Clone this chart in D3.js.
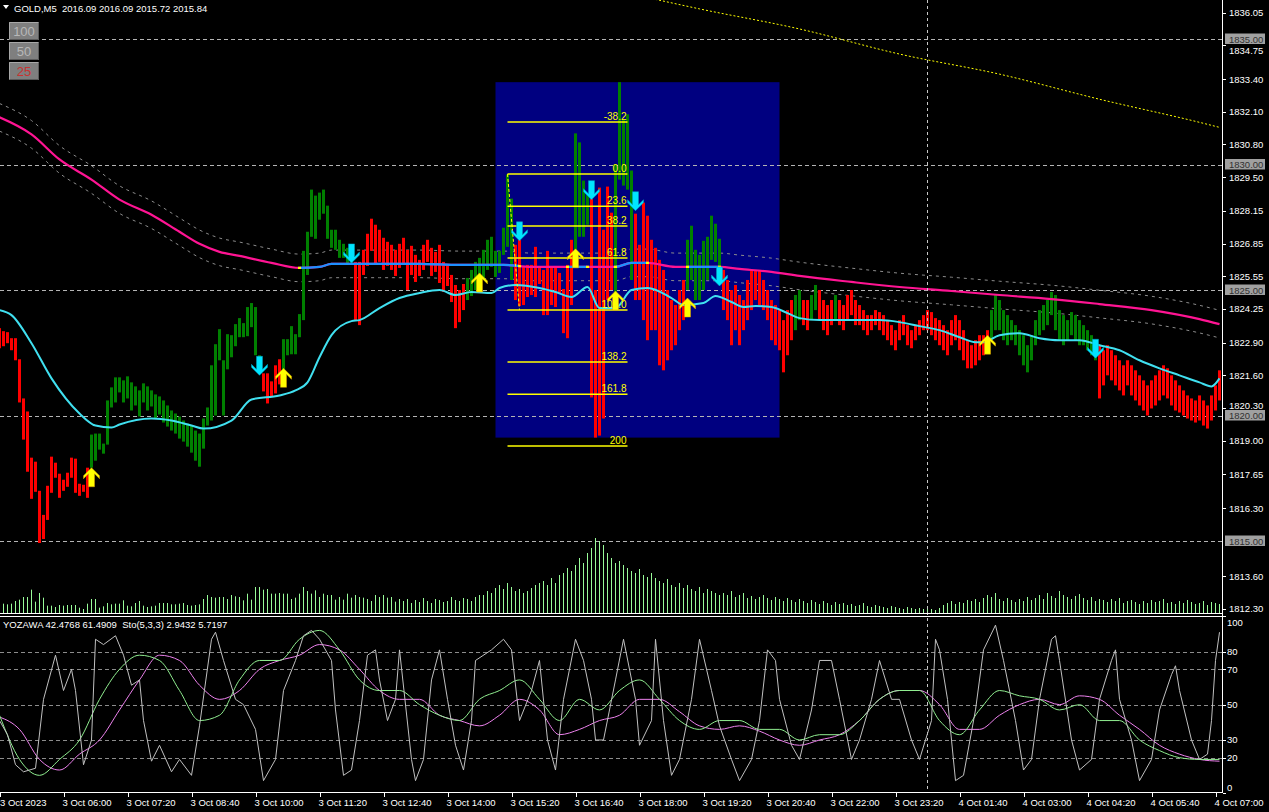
<!DOCTYPE html>
<html><head><meta charset="utf-8">
<script src="https://cdn.jsdelivr.net/npm/d3@7/dist/d3.min.js"></script>
<style>html,body{margin:0;padding:0;background:#000;overflow:hidden}svg{display:block}text{font-family:"Liberation Sans",Arial,sans-serif}</style>
</head><body><svg id="c" width="1269" height="812"></svg>
<script>
// ---------------- DATA ----------------
const barHigh = [1823.48,1823.36,1823.32,1823.08,1823.08,1822.24,1820.68,1820.16,1818.32,1818.16,
1817.00,1816.04,1817.20,1818.36,1818.12,1817.68,1817.44,1817.72,1818.32,1818.28,
1817.28,1817.24,1817.92,1819.24,1819.28,1819.28,1818.88,1820.60,1821.12,1821.52,
1821.52,1821.40,1821.56,1821.32,1821.16,1821.00,1821.28,1821.16,1821.00,1820.84,
1820.76,1820.60,1820.40,1820.20,1820.08,1819.96,1819.80,1819.68,1819.60,1819.40,
1819.28,1819.88,1820.32,1822.00,1822.84,1823.44,1822.20,1823.24,1823.20,1823.64,
1823.88,1823.68,1824.32,1824.48,1824.32,1822.40,1821.68,1821.68,1821.36,1822.00,
1822.24,1823.04,1823.04,1823.56,1823.24,1824.04,1826.56,1827.32,1829.00,1828.76,
1828.88,1829.00,1828.36,1827.40,1827.40,1827.00,1826.84,1826.68,1826.44,1826.12,
1826.12,1826.60,1827.24,1827.84,1827.60,1827.40,1827.08,1826.92,1826.80,1826.60,
1826.84,1827.08,1826.60,1826.76,1826.40,1826.20,1826.80,1827.00,1826.68,1826.52,
1826.80,1826.12,1826.00,1825.60,1825.20,1825.00,1825.24,1825.48,1825.80,1826.12,
1826.28,1826.60,1827.00,1827.12,1826.56,1826.56,1827.48,1829.60,1828.64,1826.80,
1827.00,1825.92,1826.00,1826.00,1826.72,1825.88,1825.80,1826.56,1825.92,1825.92,
1825.68,1825.04,1826.00,1827.00,1831.24,1830.88,1829.36,1828.80,1828.64,1825.00,
1829.08,1827.40,1829.12,1828.08,1830.00,1833.28,1831.80,1832.00,1829.76,1828.04,
1826.80,1828.48,1827.96,1827.00,1826.68,1826.20,1825.80,1825.00,1824.60,1824.40,
1825.00,1825.40,1827.00,1827.56,1826.60,1826.40,1826.96,1827.12,1827.96,1827.64,
1827.04,1825.80,1825.40,1825.00,1825.20,1824.80,1824.60,1825.40,1825.80,1825.80,
1825.80,1825.40,1825.00,1824.60,1824.40,1824.20,1823.80,1824.20,1824.60,1824.80,
1825.00,1824.60,1824.60,1824.80,1825.20,1825.00,1824.60,1824.40,1824.60,1824.80,
1824.60,1824.40,1824.80,1825.00,1824.60,1824.40,1824.20,1824.00,1824.00,1824.20,
1824.12,1824.00,1823.80,1823.60,1823.40,1823.80,1824.00,1823.60,1823.40,1823.60,
1823.80,1824.00,1824.20,1824.12,1823.88,1823.80,1823.60,1823.40,1823.80,1824.00,
1823.80,1823.40,1823.00,1822.80,1823.00,1823.20,1823.20,1823.40,1824.20,1824.80,
1824.60,1824.20,1824.00,1823.80,1823.60,1823.40,1823.20,1822.80,1823.20,1823.80,
1824.20,1824.40,1824.60,1824.92,1824.80,1824.20,1824.00,1823.80,1824.12,1824.00,
1823.80,1823.60,1823.40,1823.20,1823.00,1822.80,1822.60,1822.80,1822.60,1822.40,
1822.20,1822.00,1822.20,1822.00,1821.80,1821.60,1821.40,1821.20,1821.40,1821.60,
1821.80,1822.00,1821.88,1821.60,1821.40,1821.20,1821.00,1820.80,1820.68,1820.60,
1820.80,1820.60,1820.40,1820.80,1821.20,1821.80];
const barLow = [1822.68,1822.76,1822.88,1822.60,1822.20,1820.52,1819.04,1817.76,1816.68,1816.96,
1814.92,1815.08,1815.84,1816.92,1817.52,1816.72,1817.00,1817.16,1817.52,1816.92,
1816.80,1816.96,1816.72,1817.92,1818.20,1818.64,1818.48,1818.84,1820.32,1820.52,
1820.92,1820.52,1820.68,1820.20,1820.40,1819.96,1820.52,1820.20,1820.36,1819.88,
1820.04,1819.72,1819.56,1819.40,1819.28,1819.08,1818.96,1818.76,1818.52,1818.20,
1817.96,1818.68,1819.60,1819.80,1820.00,1822.20,1820.00,1821.84,1822.32,1822.76,
1823.12,1823.12,1823.16,1823.52,1822.40,1821.92,1820.96,1820.48,1820.76,1820.88,
1821.24,1821.84,1822.40,1822.44,1822.44,1823.12,1823.80,1825.60,1827.12,1827.04,
1827.80,1828.04,1827.04,1826.68,1826.60,1826.28,1826.28,1826.04,1826.08,1823.80,
1823.60,1825.60,1825.96,1826.56,1826.00,1826.12,1825.80,1825.96,1825.80,1825.56,
1825.88,1826.00,1825.00,1825.60,1825.32,1825.56,1825.80,1826.12,1825.56,1825.72,
1825.28,1824.92,1825.16,1824.52,1823.48,1823.72,1824.20,1824.60,1824.76,1825.00,
1825.20,1825.40,1825.80,1825.92,1825.52,1825.68,1826.40,1826.72,1825.40,1824.60,
1824.36,1824.40,1824.72,1824.80,1824.72,1825.24,1824.00,1824.00,1824.40,1824.32,
1824.88,1823.28,1823.08,1824.40,1826.60,1827.12,1827.12,1827.60,1820.72,1819.12,
1819.20,1819.88,1824.60,1825.00,1824.60,1829.40,1829.16,1829.00,1825.40,1824.60,
1824.60,1823.80,1823.00,1823.40,1823.40,1822.00,1821.80,1822.20,1822.60,1822.80,
1823.40,1823.80,1825.00,1825.40,1824.60,1824.60,1825.00,1825.40,1826.20,1826.12,
1825.80,1824.20,1823.80,1822.80,1823.40,1822.80,1823.40,1823.80,1824.20,1824.60,
1824.40,1824.20,1823.80,1823.00,1822.80,1822.60,1821.72,1822.40,1823.00,1823.40,
1823.80,1823.60,1823.40,1823.80,1824.20,1823.80,1823.40,1823.20,1823.60,1823.80,
1823.60,1823.40,1823.80,1824.00,1823.60,1823.60,1823.40,1823.20,1823.40,1823.60,
1823.40,1823.20,1823.00,1822.80,1822.60,1823.00,1823.20,1822.80,1822.68,1823.00,
1823.20,1823.40,1823.40,1823.20,1823.00,1822.80,1822.60,1822.40,1822.80,1823.00,
1822.60,1822.20,1821.88,1821.88,1822.00,1822.20,1822.40,1822.52,1823.00,1823.40,
1823.40,1823.00,1822.80,1823.00,1822.80,1822.40,1822.00,1821.72,1822.20,1822.80,
1823.20,1823.40,1823.60,1824.00,1823.40,1823.00,1822.80,1823.00,1823.20,1823.00,
1822.80,1822.80,1822.60,1822.40,1822.20,1820.68,1821.20,1821.60,1821.40,1821.20,
1821.00,1820.80,1821.20,1820.80,1820.60,1820.40,1820.20,1820.00,1820.28,1820.40,
1820.60,1820.80,1820.68,1820.40,1820.20,1820.12,1820.00,1819.88,1819.80,1819.72,
1819.80,1819.60,1819.48,1819.80,1820.20,1820.60];
// run lengths of bar colours, starting with a down (red) run and alternating
const barColorRuns = [23,43,5,18,28,12,15,4,6,5,13,9,18,2,2,2,4,1,38,27,31];
const tickVolume = [270,280,260,280,360,400,480,480,700,340,600,
460,220,220,180,240,220,240,240,240,160,
120,280,420,420,160,200,300,260,280,280,
380,220,200,300,360,220,180,200,220,300,
300,300,260,260,280,300,240,220,240,260,
420,540,480,460,480,480,420,540,500,480,
380,580,400,780,780,700,720,580,580,600,
580,580,420,460,580,780,660,580,680,480,
580,540,540,400,480,400,580,460,540,480,
460,420,360,540,480,540,460,480,340,420,
360,420,300,390,330,450,360,300,420,390,330,360,480,390,360,450,420,360,480,540,
540,660,600,750,840,720,900,780,660,720,600,660,750,840,900,
960,840,1050,900,1140,1200,1350,1260,1440,1650,
1500,1800,1950,2250,2160,2040,1800,1650,1500,1560,
1440,1350,1260,1200,1320,1140,1080,1200,1050,960,
900,1020,840,780,900,750,840,720,660,780,600,720,660,600,540,
600,540,660,480,540,600,450,510,420,480,540,450,390,480,420,360,450,390,330,420,
360,300,390,330,270,360,300,240,330,270,300,240,270,210,240,300,210,180,240,210,180,150,210,180,150,120,180,150,120,150,
120,150,120,90,150,240,300,360,270,330,300,390,360,420,330,
450,540,480,600,420,360,450,390,330,420,360,480,390,450,540,420,600,510,450,660,540,480,420,510,570,450,390,480,360,420,
390,330,420,360,450,300,360,390,330,270,360,300,390,330,360,420,300,330,270,360,300,390,330,270,300,360,240,330,300,270];

const maFastBar = [0,3,8,13,20,24,28,30,38,43,48,51,58,63,70,74,77,80,83,88,90,95,100,105,110,114,118,123,125,129,135,139,143,147,150,154,158,162,168,171,176,179,183,186,189,193,197,200,205,213,220,225,230,235,240,244,246,250,255,260,265,270,275,280,285,290,295,300,303,305];
const maFastVal = [1824.20,1824.00,1822.88,1821.48,1820.08,1819.60,1819.52,1819.64,1819.88,1819.80,1819.60,1819.48,1819.80,1820.64,1820.80,1821.00,1821.32,1822.32,1823.20,1823.76,1823.80,1824.28,1824.68,1824.88,1825.00,1824.80,1824.92,1824.88,1825.08,1825.20,1825.08,1824.92,1824.72,1825.12,1824.28,1824.28,1825.00,1825.08,1824.68,1824.40,1824.48,1824.76,1824.52,1824.32,1824.36,1824.32,1824.08,1823.88,1823.80,1823.80,1823.80,1823.72,1823.56,1823.40,1823.12,1822.92,1822.92,1823.20,1823.28,1823.08,1823.00,1823.00,1822.80,1822.60,1822.20,1821.88,1821.60,1821.32,1821.16,1821.48];
const maSlowBar = [0,8,15,23,30,38,45,50,55,60,68,75,80,83,95,105,115,126,133,139,148,154,158,162,169,180,185,193,200,213,225,238,250,263,275,288,300,305];
const maSlowVal = [1831.88,1831.20,1830.20,1829.40,1828.60,1828.00,1827.32,1826.84,1826.52,1826.36,1826.08,1825.88,1825.92,1826.04,1826.04,1826.04,1826.00,1826.00,1825.92,1825.92,1825.92,1825.92,1826.08,1826.08,1825.92,1825.92,1825.84,1825.72,1825.56,1825.32,1825.12,1824.96,1824.80,1824.64,1824.44,1824.20,1823.84,1823.64];
const maSlowUpRanges = [[75,130],[142,147],[154,162],[172,180]];
const envelopeWidth = 0.55;
const maLongBar = [160,175,200,225,250,275,300,305];
const maLongVal = [1836.72,1836.20,1835.40,1834.40,1833.60,1832.60,1831.68,1831.48];

const upArrowBar = [23,71,120,144,154,172,247];
const upArrowPrice = [1817.92,1821.88,1825.68,1826.64,1824.96,1824.68,1823.20];
const downArrowBar = [65,88,130,148,159,180,274];
const downArrowPrice = [1821.60,1826.08,1826.96,1828.60,1828.16,1825.16,1822.28];

const fibLevels = [-38.2,0,23.6,38.2,61.8,100,138.2,161.8,200];
const fibLabels = ["-38.2","0.0","23.6","38.2","61.8","100.0","138.2","161.8","200"];
const fibAnchorBars = [127,130];
const fibAnchorPrices = [1829.62,1824.20];
const fibLineEndBar = 157;
const boxBars = [124,195];

const stoBar = [0,2,4,6,9,11,14,16,18,19,21,23,24,26,29,31,33,35,36,38,40,43,45,48,50,53,54,56,59,61,64,66,69,71,74,76,78,80,83,84,86,88,90,92,94,95,97,99,100,103,104,106,108,110,112,114,116,118,119,123,126,128,130,133,135,137,139,141,144,146,148,149,151,154,156,159,160,163,164,166,168,170,173,175,178,180,183,185,188,190,192,194,195,198,200,203,205,208,210,213,215,218,220,223,225,228,230,233,234,235,237,239,241,244,246,249,251,254,256,258,260,263,264,265,268,270,273,275,278,279,280,283,285,288,290,293,294,295,298,300,302,303,304,305];
const stoVal = [41,33,16,12,14,53,78,58,70,58,16,30,87,84,89,78,61,64,41,18,27,12,19,10,38,87,91,75,53,50,36,7,19,58,75,89,92,87,75,47,10,13,41,78,81,64,41,53,81,19,7,19,64,81,53,27,13,41,75,81,87,81,41,58,75,30,13,53,87,75,53,30,30,64,87,53,27,41,87,41,10,19,53,87,58,38,19,7,19,41,81,75,53,27,19,47,75,75,53,19,30,53,75,53,53,30,19,41,87,81,53,7,10,47,81,95,75,41,13,19,53,87,89,75,30,13,19,53,75,81,53,30,7,19,47,67,72,58,30,19,22,41,75,91];
const yozGreenBar = [0,5,10,15,20,25,30,35,40,45,50,55,60,65,70,75,80,85,90,95,100,105,110,115,120,125,130,135,140,145,150,155,160,165,170,175,180,185,190,195,200,205,210,215,220,225,230,235,240,245,250,255,260,265,270,275,280,285,290,295,300,305];
const yozGreenVal = [44,19,10,19,30,53,70,78,75,58,41,44,64,75,75,87,92,81,64,58,58,50,44,41,53,58,64,53,41,53,47,58,64,53,41,36,41,41,36,36,30,33,33,41,53,58,58,41,33,47,58,55,53,47,50,41,41,30,24,20,19,19];
const yozPlumVal = [43,36,19,13,22,30,47,64,78,75,61,53,58,70,75,78,84,81,70,58,53,53,44,41,38,44,53,47,33,36,41,44,53,53,46,38,36,38,35,30,27,30,33,41,53,58,58,50,36,36,44,50,53,50,55,53,44,36,27,22,19,18];

const priceTicks = [1836.05,1834.75,1833.40,1832.10,1830.80,1829.50,1828.15,1826.85,1825.55,1824.25,1822.90,1821.60,1820.30,1819.00,1817.65,1816.30,1813.60,1812.30];
const roundLevels = [1835,1830,1825,1820,1815];
const stoLevels = [80,70,50,30,20];
const stoTickLabels = ["100","80","70","50","30","20","0"];
const timeLabels = ["3 Oct 2023","3 Oct 06:00","3 Oct 07:20","3 Oct 08:40","3 Oct 10:00","3 Oct 11:20","3 Oct 12:40","3 Oct 14:00","3 Oct 15:20","3 Oct 16:40","3 Oct 18:00","3 Oct 19:20","3 Oct 20:40","3 Oct 22:00","3 Oct 23:20","4 Oct 01:40","4 Oct 03:00","4 Oct 04:20","4 Oct 05:40","4 Oct 07:00"];
const timeLabelBars = [0,16,32,48,64,80,96,112,128,144,160,176,192,208,224,240,256,272,288,304];
const daySeparatorBar = 232;
const headerText = "GOLD,M5  2016.09 2016.09 2015.72 2015.84";
const subHeaderText = "YOZAWA 42.4768 61.4909  Sto(5,3,3) 2.9432 5.7197";
const scaleButtons = ["100","50","25"];

// ---------------- DRAW ----------------
const W = 1269, H = 812, axisX = 1222;
const svg = d3.select('#c');
svg.append('rect').attr('width', W).attr('height', H).attr('fill', '#000');
const x = d3.scaleLinear().domain([0, 1]).range([-0.5, 3.5]);
const y = d3.scaleLinear().domain([1835, 1815]).range([39, 541]);
const yv = d3.scaleLinear().domain([0, 3000]).range([613, 513]);
const ys = d3.scaleLinear().domain([0, 100]).range([793, 616.3]);

const defs = svg.append('defs');
defs.append('clipPath').attr('id', 'mainClip').append('rect').attr('x', 0).attr('y', 0).attr('width', axisX).attr('height', 613);
defs.append('clipPath').attr('id', 'subClip').append('rect').attr('x', 0).attr('y', 617).attr('width', axisX).attr('height', 175);

const main = svg.append('g').attr('clip-path', 'url(#mainClip)');
const n = barHigh.length;
const bars = d3.range(n).map(i => ({i, h: barHigh[i], l: barLow[i], v: tickVolume[i]}));
let idx = 0;
barColorRuns.forEach((len, k) => { for (let t = 0; t < len; t++) { if (bars[idx]) bars[idx].up = (k % 2 === 1); idx++; } });

// fib box
const boxSlice = bars.slice(boxBars[0], boxBars[1] + 1);
const boxTop = d3.max(boxSlice, d => d.h), boxBot = d3.min(boxSlice, d => d.l);
main.append('rect').attr('x', x(boxBars[0])).attr('y', y(boxTop))
  .attr('width', x(boxBars[1]) - x(boxBars[0])).attr('height', y(boxBot) - y(boxTop)).attr('fill', '#000080');

// grid
main.selectAll('.grid').data(roundLevels).join('line')
  .attr('x1', 0).attr('x2', axisX).attr('y1', d => Math.round(y(d)) + 0.5).attr('y2', d => Math.round(y(d)) + 0.5)
  .attr('stroke', '#b4b4b4').attr('stroke-dasharray', '4,3').attr('stroke-width', 1);

// volume
main.selectAll('.vol').data(bars).join('line')
  .attr('x1', d => x(d.i)).attr('x2', d => x(d.i)).attr('y1', 613).attr('y2', d => yv(d.v))
  .attr('stroke', '#98fb98').attr('stroke-width', 1);

// long MA (yellow dotted)
const lineP = (bArr, vArr) => d3.line().x((d, i) => x(bArr[i])).y(d => y(d)).curve(d3.curveMonotoneX)(vArr);
main.append('path').attr('d', lineP(maLongBar, maLongVal)).attr('fill', 'none')
  .attr('stroke', '#ffff00').attr('stroke-width', 1).attr('stroke-dasharray', '2,2');

// envelopes
[envelopeWidth, -envelopeWidth].forEach(off => {
  main.append('path').attr('d', lineP(maSlowBar, maSlowVal.map(v => v + off))).attr('fill', 'none')
    .attr('stroke', '#8c8c8c').attr('stroke-width', 1).attr('stroke-dasharray', '3,4');
});

// candles
main.selectAll('.bar').data(bars).join('rect')
  .attr('x', d => x(d.i) - 1.5).attr('width', 3)
  .attr('y', d => y(d.h)).attr('height', d => Math.max(1, y(d.l) - y(d.h)))
  .attr('fill', d => d.up ? '#008000' : '#ff0000');

// day separator
svg.append('line').attr('x1', x(daySeparatorBar)).attr('x2', x(daySeparatorBar)).attr('y1', 0).attr('y2', 793)
  .attr('stroke', '#c8c8c8').attr('stroke-dasharray', '3,3').attr('stroke-width', 1);

// slow MA
const slowD = lineP(maSlowBar, maSlowVal);
main.append('path').attr('d', slowD).attr('fill', 'none').attr('stroke', '#ff1493').attr('stroke-width', 2.2);
maSlowUpRanges.forEach((r, k) => {
  const id = 'blueClip' + k;
  defs.append('clipPath').attr('id', id).append('rect').attr('x', x(r[0])).attr('y', 0).attr('width', x(r[1]) - x(r[0])).attr('height', 613);
  main.append('path').attr('d', slowD).attr('fill', 'none').attr('stroke', '#1e90ff').attr('stroke-width', 2.2).attr('clip-path', `url(#${id})`);
  r.forEach((b, m) => {
    const id2 = 'ydot' + k + '_' + m;
    defs.append('clipPath').attr('id', id2).append('rect').attr('x', x(b) - 1.5).attr('y', 0).attr('width', 3).attr('height', 613);
    main.append('path').attr('d', slowD).attr('fill', 'none').attr('stroke', '#ffff00').attr('stroke-width', 2.2).attr('clip-path', `url(#${id2})`);
  });
});

// fast MA
main.append('path').attr('d', lineP(maFastBar, maFastVal)).attr('fill', 'none').attr('stroke', '#40e0f0').attr('stroke-width', 2);

// fib
const fibY = lv => y(fibAnchorPrices[0] - lv / 100 * (fibAnchorPrices[0] - fibAnchorPrices[1]));
main.append('line').attr('x1', x(fibAnchorBars[0])).attr('y1', y(fibAnchorPrices[0])).attr('x2', x(fibAnchorBars[1])).attr('y2', y(fibAnchorPrices[1]))
  .attr('stroke', '#ffff00').attr('stroke-dasharray', '3,2').attr('stroke-width', 1);
main.selectAll('.fibl').data(fibLevels).join('line')
  .attr('x1', x(fibAnchorBars[0])).attr('x2', x(fibLineEndBar)).attr('y1', d => fibY(d)).attr('y2', d => fibY(d))
  .attr('stroke', '#ffff00').attr('stroke-width', 1.5);
main.selectAll('.fibt').data(fibLevels).join('text')
  .attr('x', x(fibLineEndBar) - 1).attr('y', d => fibY(d) - 2).attr('text-anchor', 'end')
  .attr('fill', '#ffff00').attr('font-size', 10).text((d, i) => fibLabels[i]);

// arrows
const upPath = 'M0,0 L8,8 L8,11 L3,6 L3,19 L-3,19 L-3,6 L-8,11 L-8,8 Z';
main.selectAll('.ua').data(upArrowBar).join('path')
  .attr('d', upPath).attr('transform', (d, i) => `translate(${x(d)},${y(upArrowPrice[i])})`)
  .attr('fill', '#ffff00').attr('stroke', '#e0a000').attr('stroke-width', 0.5);
main.selectAll('.da').data(downArrowBar).join('path')
  .attr('d', upPath).attr('transform', (d, i) => `translate(${x(d)},${y(downArrowPrice[i])}) scale(1,-1)`)
  .attr('fill', '#00e5ff').attr('stroke', '#00a0c0').attr('stroke-width', 0.5);

// sub-window
const sub = svg.append('g').attr('clip-path', 'url(#subClip)');
sub.selectAll('.sl').data(stoLevels).join('line')
  .attr('x1', 0).attr('x2', axisX).attr('y1', d => Math.round(ys(d)) + 0.5).attr('y2', d => Math.round(ys(d)) + 0.5)
  .attr('stroke', '#8c8c8c').attr('stroke-dasharray', '4,3');
const lineS = (bArr, vArr, curve) => d3.line().x((d, i) => x(bArr[i])).y(d => ys(d)).curve(curve)(vArr);
sub.append('path').attr('d', lineS(yozGreenBar, yozPlumVal, d3.curveMonotoneX)).attr('fill', 'none').attr('stroke', '#ee82ee').attr('stroke-width', 1);
sub.append('path').attr('d', lineS(yozGreenBar, yozGreenVal, d3.curveMonotoneX)).attr('fill', 'none').attr('stroke', '#90ee90').attr('stroke-width', 1);
sub.append('path').attr('d', lineS(stoBar, stoVal, d3.curveLinear)).attr('fill', 'none').attr('stroke', '#c0c0c0').attr('stroke-width', 1);

// frame lines
svg.append('line').attr('x1', 0).attr('x2', axisX + 0.5).attr('y1', 613.5).attr('y2', 613.5).attr('stroke', '#fff');
svg.append('line').attr('x1', 0).attr('x2', axisX + 0.5).attr('y1', 616.5).attr('y2', 616.5).attr('stroke', '#fff');
svg.append('line').attr('x1', 0).attr('x2', axisX + 0.5).attr('y1', 792.5).attr('y2', 792.5).attr('stroke', '#fff');
svg.append('line').attr('x1', axisX + 0.5).attr('x2', axisX + 0.5).attr('y1', 0).attr('y2', 793).attr('stroke', '#fff');

// price axis
const pa = svg.append('g');
// keep regular labels clear of the highlighted round-number boxes
const labelY = d => {
  let yy = y(d) + 3.5;
  roundLevels.forEach(r => {
    const dy = y(d) - y(r);
    if (Math.abs(dy) < 11 && Math.abs(dy) > 0.5) yy = dy > 0 ? y(r) + 14.5 : y(r) - 6.5;
  });
  return yy;
};
pa.selectAll('.pt').data(priceTicks).join('line')
  .attr('x1', axisX + 1).attr('x2', axisX + 4).attr('y1', d => Math.round(y(d)) + 0.5).attr('y2', d => Math.round(y(d)) + 0.5).attr('stroke', '#fff');
pa.selectAll('.ptl').data(priceTicks).join('text')
  .attr('x', 1229).attr('y', labelY).attr('fill', '#fff').attr('font-size', 9.5).text(d => d.toFixed(2));
pa.selectAll('.rb').data(roundLevels).join('rect')
  .attr('x', 1225).attr('y', d => y(d) - 5.5).attr('width', 40).attr('height', 10.5).attr('fill', '#a0a0a0');
pa.selectAll('.rbt').data(roundLevels).join('text')
  .attr('x', 1229).attr('y', d => y(d) + 3.5).attr('fill', '#303030').attr('font-size', 9.5).text(d => d.toFixed(2));

// sub axis
const stoTickVals = [100, 80, 70, 50, 30, 20, 0];
svg.selectAll('.stt').data(stoTickVals).join('line')
  .attr('x1', axisX + 1).attr('x2', axisX + 4).attr('y1', d => Math.round(ys(d)) + 0.5).attr('y2', d => Math.round(ys(d)) + 0.5).attr('stroke', '#fff');
svg.selectAll('.stl').data(stoTickVals).join('text')
  .attr('x', 1227).attr('y', d => d === 100 ? 626 : d === 0 ? 791 : ys(d) + 3.5)
  .attr('fill', '#fff').attr('font-size', 9.5).text((d, i) => stoTickLabels[i]);

// time axis
svg.selectAll('.tt').data(timeLabelBars).join('line')
  .attr('x1', d => Math.round(x(d)) + 0.5).attr('x2', d => Math.round(x(d)) + 0.5).attr('y1', 793).attr('y2', 797).attr('stroke', '#fff');
svg.selectAll('.tl').data(timeLabelBars).join('text')
  .attr('x', d => Math.max(0, x(d) - 1)).attr('y', 806).attr('fill', '#fff').attr('font-size', 9.5)
  .text((d, i) => timeLabels[i]);

// header
svg.append('path').attr('d', 'M3,5 L9,5 L6,9 Z').attr('fill', '#fff');
svg.append('text').attr('x', 14).attr('y', 12).attr('fill', '#fff').attr('font-size', 9.5).attr('xml:space', 'preserve').text(headerText);
svg.append('text').attr('x', 3).attr('y', 628).attr('fill', '#fff').attr('font-size', 9.5).attr('xml:space', 'preserve').text(subHeaderText);

// scale buttons
const btn = svg.selectAll('.btn').data(scaleButtons).join('g').attr('transform', (d, i) => `translate(9,${22 + i * 20})`);
btn.append('rect').attr('width', 30).attr('height', 18).attr('fill', '#7f7f7f');
btn.append('path').attr('d', 'M0.5,17.5 V0.5 H29.5').attr('stroke', '#a8a8a8').attr('fill', 'none');
btn.append('path').attr('d', 'M29.5,0.5 V17.5 H0.5').attr('stroke', '#5a5a5a').attr('fill', 'none');
btn.append('text').attr('x', 15).attr('y', 14).attr('text-anchor', 'middle').attr('font-size', 13)
  .attr('fill', (d, i) => i === 2 ? '#c83232' : '#b8b8b8').text(d => d);
</script></body></html>
